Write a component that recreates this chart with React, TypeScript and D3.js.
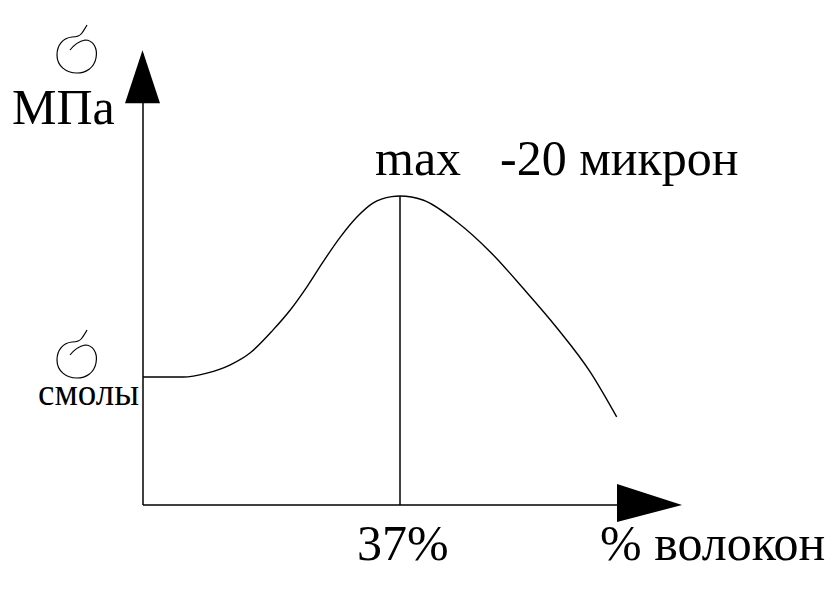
import React from "react";
import * as d3 from "d3";

// Curve: fibre content (%) vs strength (relative units, peak = 100)
const fibrePct = [0, 5.8, 9.2, 12.5, 15.4, 18.7, 21.2, 23.6, 25.9, 28.4, 30.8, 33.1, 35.8, 37, 40.3, 45.2, 50.0, 54.7, 59.6, 64.4, 68.2];
const strength = [41.4, 41.4, 42.7, 45.3, 49.2, 56.6, 63.1, 70.6, 78.6, 86.7, 93.2, 97.7, 99.8, 100, 98.7, 91.6, 81.9, 70.2, 57.3, 43.0, 28.5];
const optimumPct = 37;
const peakStrength = 100;
const xAxisMax = 77.6;
const yAxisMax = 147.2;

const yAxisLabel = "МПа";
const resinLabel = "смолы";
const maxLabel = "max";
const fibreSizeLabel = "-20 микрон";
const optimumLabel = "37%";
const xAxisLabel = "% волокон";

const W = 839;
const H = 596;

export default function App() {
  const x = d3.scaleLinear().domain([0, optimumPct]).range([143, 400]);
  const y = d3.scaleLinear().domain([0, peakStrength]).range([505, 196]);
  const pts: [number, number][] = fibrePct.map((p, i) => [p, strength[i]]);
  const line = d3
    .line<[number, number]>()
    .x((d) => x(d[0]))
    .y((d) => y(d[1]))
    .curve(d3.curveMonotoneX);

  const x0 = x(0);
  const y0 = y(0);
  const xEnd = x(xAxisMax);
  const yTop = y(yAxisMax);

  const sigma =
    "M70,50 C74,45 80,41 85,40 C93,40 98,48 96,58 C94,68 86,73 77,73 C66,73 57,66 57,55 C57,45 63,38 72,37 C77,37 80,36 82,33 C84,30 86,27 87,25";

  const font = "'Liberation Serif', 'Times New Roman', serif";

  return (
    <svg
      width={W}
      height={H}
      style={{ position: "absolute", left: 0, top: 0, background: "#fff" }}
      fontFamily={font}
    >
      {/* axes */}
      <line x1={x0} y1={y0} x2={x0} y2={yTop + 4} stroke="#000" strokeWidth={1.5} />
      <line x1={x0} y1={y0} x2={xEnd - 4} y2={y0} stroke="#000" strokeWidth={1.5} />
      <path d={`M${x0 - 0.5},${yTop} L${x0 + 17},${yTop + 53} L${x0 - 18},${yTop + 53} Z`} fill="#000" />
      <path d={`M${xEnd},${y0} L${xEnd - 65},${y0 - 21} L${xEnd - 65},${y0 + 17} Z`} fill="#000" />

      {/* curve */}
      <path d={line(pts) || ""} fill="none" stroke="#000" strokeWidth={1.4} />

      {/* optimum line */}
      <line x1={x(optimumPct)} y1={y(peakStrength)} x2={x(optimumPct)} y2={y0} stroke="#000" strokeWidth={1.5} />

      {/* sigma glyphs */}
      <path d={sigma} fill="none" stroke="#000" strokeWidth={1.2} />
      <path d={sigma} fill="none" stroke="#000" strokeWidth={1.2} transform="translate(0,305)" />

      {/* texts */}
      <text x={12} y={124} fontSize={50}>{yAxisLabel}</text>
      <text x={38} y={405} fontSize={37}>{resinLabel}</text>
      <text x={375} y={175} fontSize={50}>{maxLabel}</text>
      <text x={500} y={175} fontSize={50}>{fibreSizeLabel}</text>
      <text x={357} y={560} fontSize={50}>{optimumLabel}</text>
      <text x={600} y={560} fontSize={50}>{xAxisLabel}</text>
    </svg>
  );
}
